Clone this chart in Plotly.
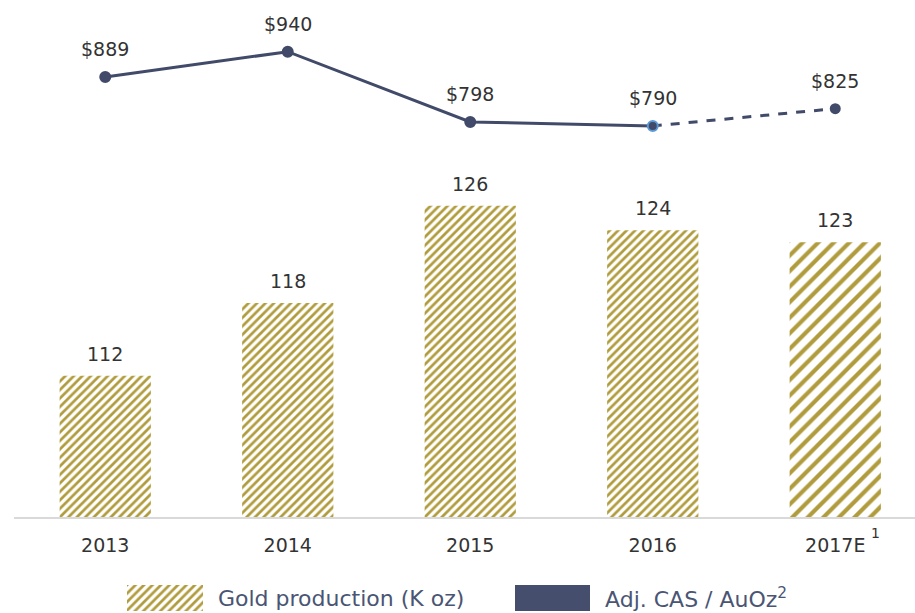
import plotly.graph_objects as go

years = ["2013", "2014", "2015", "2016", "2017E"]
gold_production = [112, 118, 126, 124, 123]
adj_cas = [889, 940, 798, 790, 825]
cas_labels = ["$889", "$940", "$798", "$790", "$825"]
legend_names = ["Gold production (K oz)", "Adj. CAS / AuOz<sup>2</sup>"]

GOLD = "#b09c3c"
NAVY = "#414a69"
TXT = "#333333"
FONT = "DejaVu Sans"

W, H = 915, 613
ML, MR, MT, MB = 14, 0, 20, 0
PW, PH = W - ML - MR, H - MT - MB
def fx(px):
    return (px - ML) / PW
def fy(py):
    return (H - MB - py) / PH

base_y = fy(517)
idx = list(range(len(years)))

def pat(size, sol):
    return dict(shape="/", fgcolor=GOLD, bgcolor="white", size=size, solidity=sol,
                fgopacity=1, fillmode="replace")

fig = go.Figure()

fig.add_trace(go.Bar(
    x=idx[:4], y=gold_production[:4], width=0.5,
    marker=dict(color=GOLD, opacity=1, line=dict(width=0), pattern=pat(6, 0.45)),
    showlegend=False, hoverinfo="skip",
))
fig.add_trace(go.Bar(
    x=idx[4:], y=gold_production[4:], width=0.5,
    marker=dict(color=GOLD, opacity=1, line=dict(width=0), pattern=pat(11, 0.38)),
    showlegend=False, hoverinfo="skip",
))

fig.add_trace(go.Scatter(
    x=idx[3:], y=adj_cas[3:], yaxis="y2", mode="lines",
    line=dict(color=NAVY, width=3, dash="dash"),
    showlegend=False, hoverinfo="skip",
))
fig.add_trace(go.Scatter(
    x=idx[:4], y=adj_cas[:4], yaxis="y2", mode="lines+markers",
    line=dict(color=NAVY, width=3),
    marker=dict(size=10, color=NAVY, line=dict(color=[NAVY, NAVY, NAVY, "#5b9bd5"], width=2)),
    showlegend=False, hoverinfo="skip",
))
fig.add_trace(go.Scatter(
    x=idx[4:], y=adj_cas[4:], yaxis="y2", mode="markers",
    marker=dict(size=11, color=NAVY),
    showlegend=False, hoverinfo="skip",
))

fig.add_trace(go.Bar(
    x=[0], y=[1], xaxis="x3", yaxis="y3", width=1,
    marker=dict(color=GOLD, opacity=1, line=dict(width=0), pattern=pat(6, 0.45)),
    showlegend=False, hoverinfo="skip",
))

annotations = []
for i, v in zip(idx, gold_production):
    annotations.append(dict(x=i, y=v, xref="x", yref="y", text=str(v), showarrow=False,
                            yshift=22, font=dict(family=FONT, size=19, color=TXT)))
for i, v, t in zip(idx, adj_cas, cas_labels):
    annotations.append(dict(x=i, y=v, xref="x", yref="y2", text=t, showarrow=False,
                            yshift=28, font=dict(family=FONT, size=19, color=TXT)))
annotations.append(dict(x=idx[4], y=fy(533), xref="x", yref="paper", text="1", showarrow=False,
                        xshift=40, yanchor="middle", font=dict(family=FONT, size=14, color=TXT)))
annotations.append(dict(x=fx(216), y=fy(598), xref="paper", yref="paper", text=legend_names[0],
                        showarrow=False, xanchor="left", yanchor="middle",
                        font=dict(family=FONT, size=22, color="#4a5574")))
annotations.append(dict(x=fx(603), y=fy(598), xref="paper", yref="paper", text=legend_names[1],
                        showarrow=False, xanchor="left", yanchor="middle",
                        font=dict(family=FONT, size=22, color="#4a5574")))

shapes = [dict(type="rect", xref="paper", yref="paper", x0=fx(515), x1=fx(590),
               y0=fy(611), y1=fy(585), fillcolor="#454e6c", line=dict(width=0))]

fig.update_layout(
    width=W, height=H, margin=dict(l=ML, r=MR, t=MT, b=MB),
    paper_bgcolor="white", plot_bgcolor="white",
    showlegend=False,
    xaxis=dict(range=[-0.5, -0.5 + PW / 182.5], showgrid=False, zeroline=False,
               tickmode="array", tickvals=idx, ticktext=years,
               showline=True, linecolor="#d9d9d9", linewidth=2, ticks="",
               tickfont=dict(family=FONT, size=19, color=TXT), ticklabelstandoff=10,
               anchor="y", fixedrange=True),
    yaxis=dict(domain=[base_y, 1], range=[100.37, 100.37 + (517 - MT) / 12.14], visible=False,
               fixedrange=True),
    yaxis2=dict(domain=[base_y, 1], range=[0, (517 - MT) / 0.495], overlaying="y",
                visible=False, fixedrange=True),
    xaxis3=dict(domain=[fx(127), fx(203)], range=[-0.5, 0.5], visible=False, anchor="y3"),
    yaxis3=dict(domain=[fy(611), fy(585)], range=[0, 1], visible=False, anchor="x3"),
    annotations=annotations, shapes=shapes,
)

fig.write_html("out.html", config={"displayModeBar": False},
               post_script="document.body.style.margin='0px';document.body.style.overflow='hidden';")
